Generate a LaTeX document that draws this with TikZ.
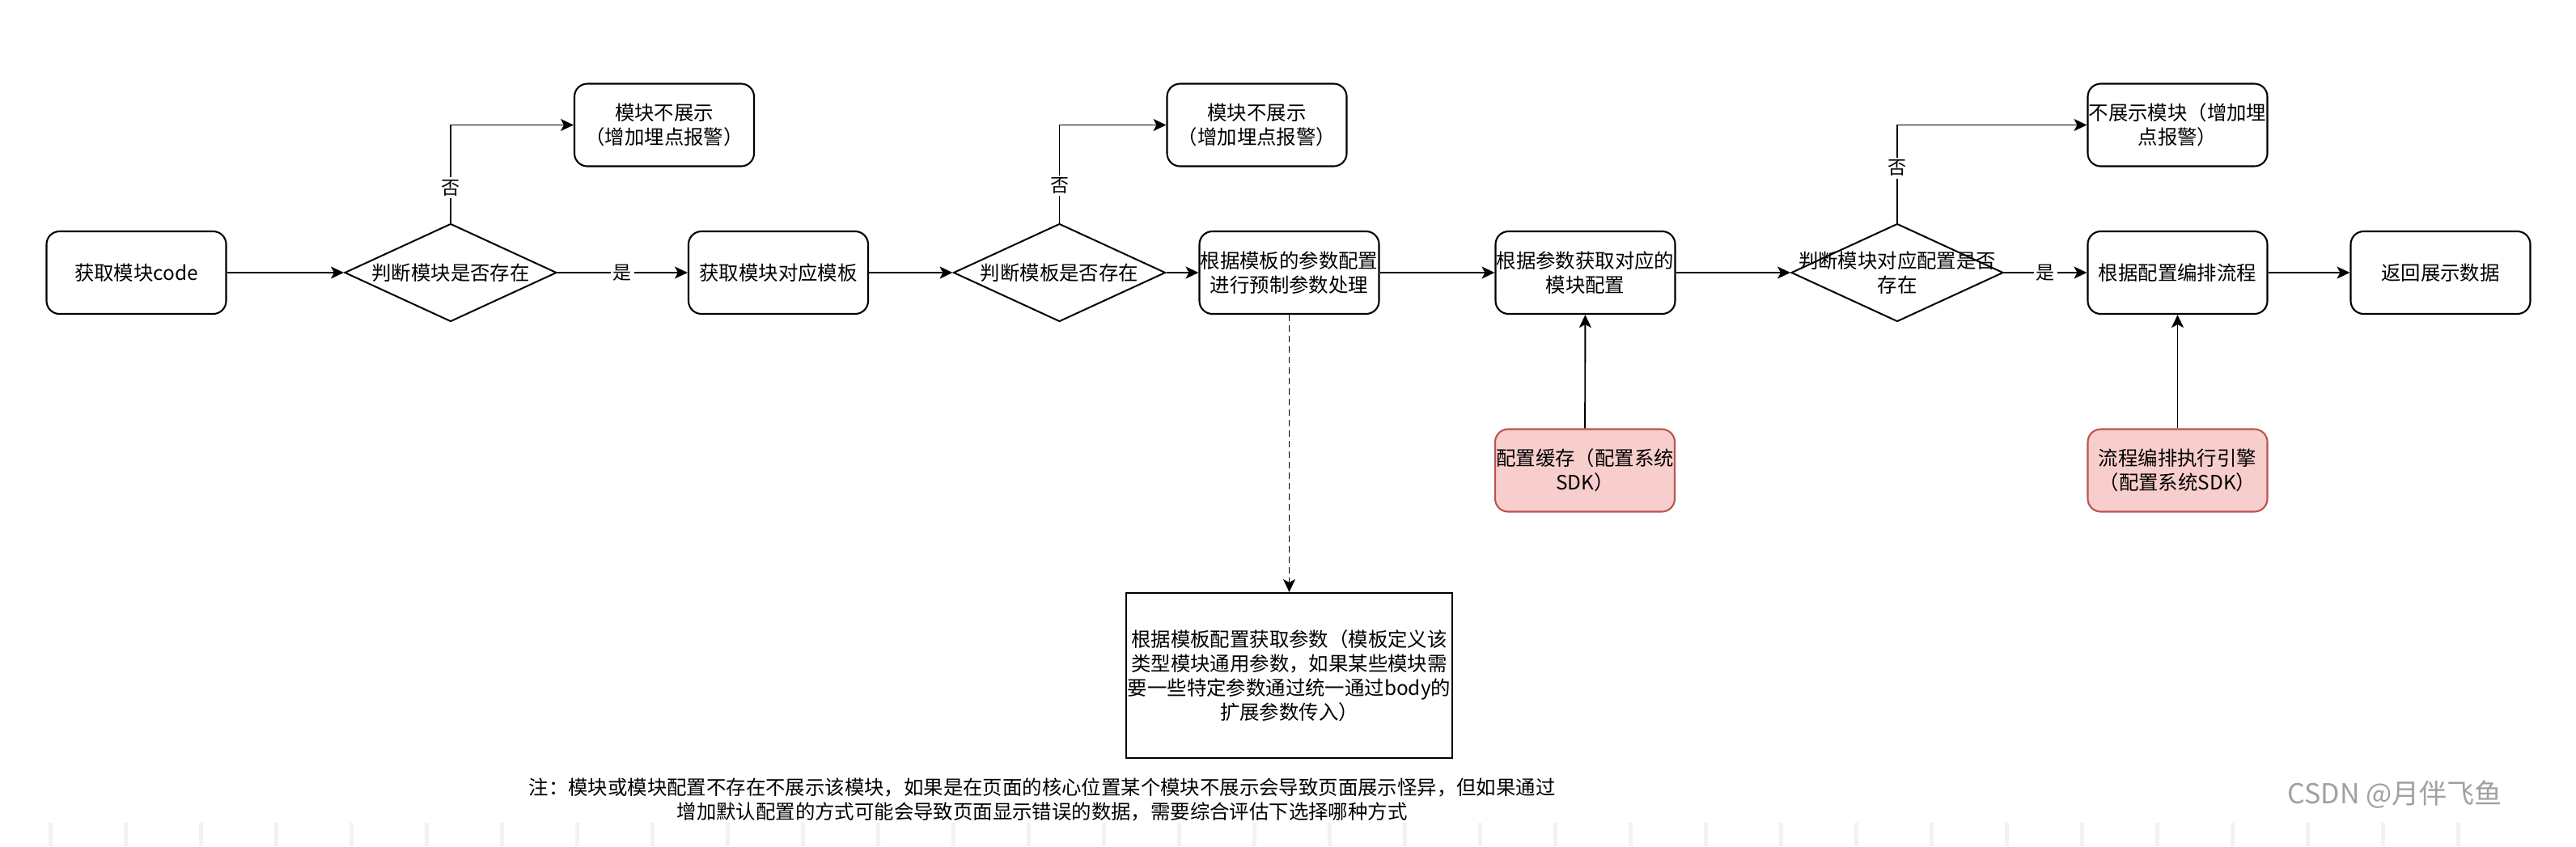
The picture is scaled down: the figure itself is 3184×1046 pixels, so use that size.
\documentclass[tikz,border=0pt]{standalone}
\usepackage{fontspec}
\setmainfont{Noto Sans CJK SC}
\usetikzlibrary{shapes.geometric,arrows.meta}
\definecolor{pinkfill}{HTML}{F8CECC}
\definecolor{pinkline}{HTML}{B85450}
\definecolor{tickgray}{RGB}{245,241,242}
\definecolor{wmgray}{RGB}{160,160,160}
\begin{document}
\begin{tikzpicture}[x=0.5pt,y=-0.5pt,
  every node/.style={font=\fontsize{12.2pt}{15pt}\selectfont, align=center, inner sep=0pt},
  box/.style={draw, rounded corners=8pt, minimum width=111pt, minimum height=51pt, line width=1.05pt},
  pbox/.style={box, fill=pinkfill, draw=pinkline},
  sqbox/.style={draw, minimum width=201.5pt, minimum height=102pt, line width=1.05pt},
  dia/.style={draw, diamond, minimum width=131pt, minimum height=60.5pt, inner sep=0pt, line width=1pt},
  txt/.style={},
  lbl/.style={fill=white, inner sep=1.5pt, font=\fontsize{11.5pt}{14pt}\selectfont},
  arr/.style={line width=0.95pt, -{Stealth[length=8pt,width=7.5pt,inset=2pt]}},
  dsh/.style={arr, dash pattern=on 4pt off 2.5pt},
  tickline/.style={draw=tickgray, line width=2.5pt},
  wm/.style={text=wmgray, font=\fontsize{17pt}{20pt}\selectfont}
]
\useasboundingbox (0,0) rectangle (3184,1046);

% main row
\node[box] (start) at (168.5,337) {获取模块code};
\node[dia] (d1) at (557,337) {};
\node[txt] (d1t) at (d1) {判断模块是否存在};
\node[box] (n1) at (821,154.5) {模块不展示\\（增加埋点报警）};
\node[box] (tpl) at (962,337) {获取模块对应模板};
\node[dia] (d2) at (1309.5,337) {};
\node[txt] (d2t) at (d2) {判断模板是否存在};
\node[box] (n2) at (1553.5,154.5) {模块不展示\\（增加埋点报警）};
\node[box] (pre) at (1593.5,337) {根据模板的参数配置\\进行预制参数处理};
\node[box] (cfg) at (1959.5,337) {根据参数获取对应的\\模块配置};
\node[dia] (d3) at (2345,337) {};
\node[txt] (d3t) at (d3) {判断模块对应配置是否\\存在};
\node[box] (n3) at (2691.5,154.5) {不展示模块（增加埋\\点报警）};
\node[box] (flow) at (2691.5,337) {根据配置编排流程};
\node[box] (ret) at (3016.5,337) {返回展示数据};

% lower nodes
\node[pbox] (cache) at (1959,581.5) {配置缓存（配置系统\\SDK）};
\node[pbox] (engine) at (2691.5,581.5) {流程编排执行引擎\\（配置系统SDK）};
\node[sqbox] (param) at (1593.5,835) {根据模板配置获取参数（模板定义该\\类型模块通用参数，如果某些模块需\\要一些特定参数通过统一通过body的\\扩展参数传入）};

% note
\node (note) at (1288,988) {注：模块或模块配置不存在不展示该模块，如果是在页面的核心位置某个模块不展示会导致页面展示怪异，但如果通过\\增加默认配置的方式可能会导致页面显示错误的数据，需要综合评估下选择哪种方式};

% connectors
\draw[arr] (start) -- (d1);
\draw[arr] (d1.north) |- node[lbl, pos=0.18] {否} (n1.west);
\draw[arr] (d1) -- node[lbl] {是} (tpl);
\draw[arr] (tpl) -- (d2);
\draw[arr] (d2.north) |- node[lbl, pos=0.19] {否} (n2.west);
\draw[arr] (d2) -- (pre);
\draw[arr] (pre) -- (cfg);
\draw[arr] (cfg) -- (d3);
\draw[arr] (d3.north) |- node[lbl, pos=0.28] {否} (n3.west);
\draw[arr] (d3) -- node[lbl] {是} (flow);
\draw[arr] (flow) -- (ret);
\draw[dsh] (pre) -- (param);
\draw[arr] (cache) -- (cfg);
\draw[arr] (engine) -- (flow);

% watermark
\node[wm] (mark) at (2960,982) {CSDN @月伴飞鱼};

% faint bottom ticks
\foreach \i in {0,...,32} {
  \path[tickline] ({62+93*\i},1017) -- ({62+93*\i},1046);
}
\end{tikzpicture}
\end{document}
